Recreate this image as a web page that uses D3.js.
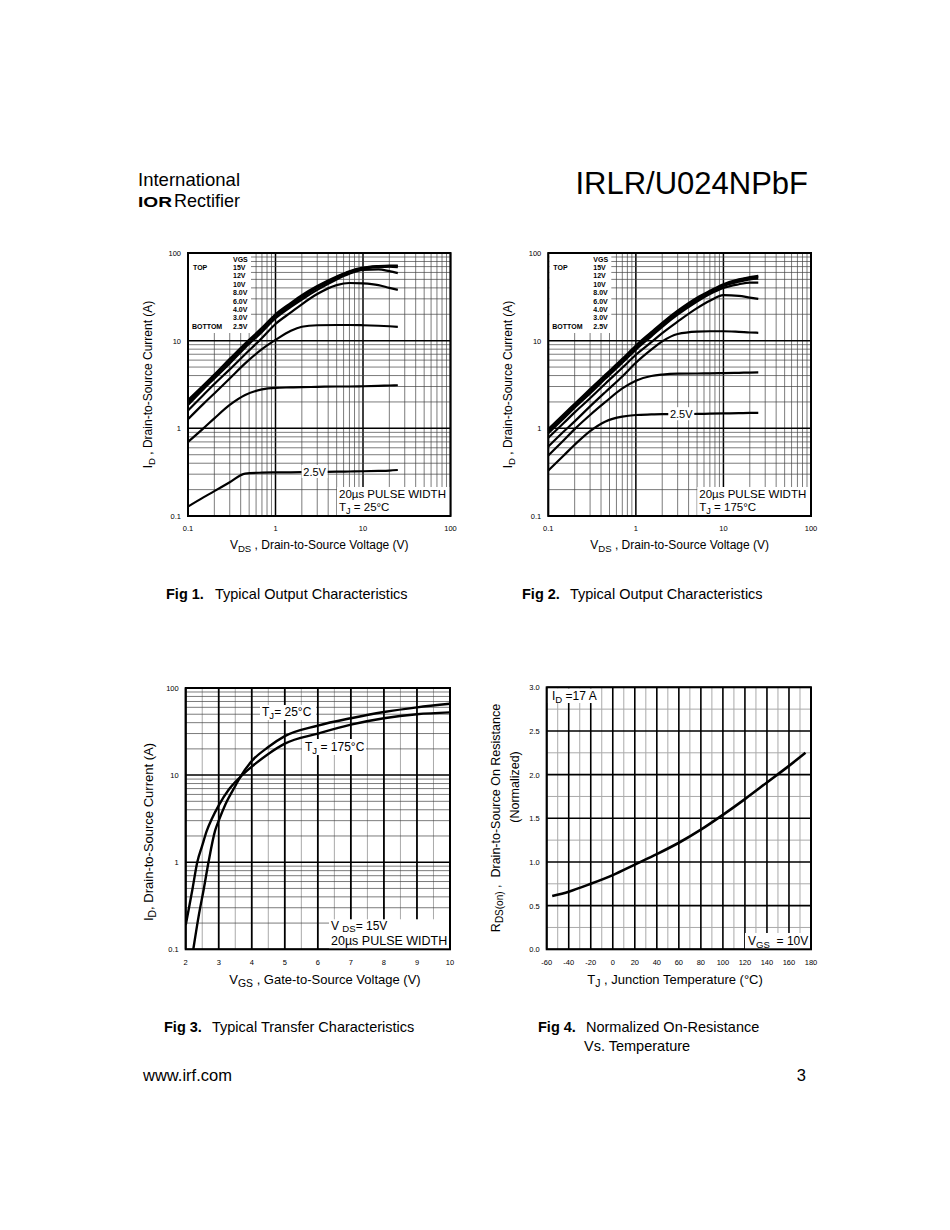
<!DOCTYPE html>
<html lang="en">
<head>
<meta charset="utf-8">
<title>IRLR/U024NPbF - page 3</title>
<script src="https://cdnjs.cloudflare.com/ajax/libs/d3/7.8.5/d3.min.js"></script>
<style>
  body { margin: 0; background: #fff; }
  svg text { font-family: "Liberation Sans", Arial, Helvetica, sans-serif; fill: #000; white-space: pre; }
</style>
</head>
<body>
<script>
// ---- data ----

// Fig 1 / Fig 2 : output characteristics, VDS sample points (V)
var vds = [0.1, 0.15, 0.2, 0.3, 0.45, 0.7, 1, 1.5, 2, 3, 5, 7, 10, 15, 20, 25];
var vgsSteps = ["15V", "12V", "10V", "8.0V", "6.0V", "4.0V", "3.0V", "2.5V"];

// Fig 1, TJ = 25C, ID (A)
var f1_15V = [2.1, 3.1, 4.1, 6.2, 9.3, 14, 20, 27, 33, 42, 54, 62, 68, 71, 72, 72];
var f1_12V = [2.0, 3.0, 4.0, 6.0, 9.0, 13.6, 19.4, 26.2, 32, 41, 53, 61, 67, 70, 71, 71];
var f1_10V = [1.95, 2.9, 3.9, 5.8, 8.7, 13.2, 18.8, 25.4, 31, 40, 52, 60, 66, 69, 70, 69];
var f1_8V = [1.85, 2.8, 3.7, 5.5, 8.3, 12.6, 18, 24.3, 29.5, 38, 50, 58, 64, 65, 62, 59];
var f1_6V = [1.6, 2.4, 3.2, 4.7, 7.0, 10.7, 15.5, 21, 26, 34, 43, 45.5, 45, 43, 40, 38];
var f1_4V = [1.27, 1.9, 2.5, 3.7, 5.5, 8.0, 10.2, 13, 14.4, 15, 15.1, 15.1, 15, 14.8, 14.6, 14.4];
var f1_3V = [0.7, 1.0, 1.3, 1.85, 2.4, 2.78, 2.9, 2.93, 2.95, 2.97, 3.0, 3.0, 3.02, 3.05, 3.08, 3.1];
var f1_25V = [0.128, 0.163, 0.192, 0.243, 0.305, 0.312, 0.314, 0.315, 0.316, 0.318, 0.32, 0.322, 0.324, 0.327, 0.33, 0.335];

// Fig 2, TJ = 175C, ID (A)
var f2_15V = [0.98, 1.45, 1.9, 2.8, 4.1, 6.2, 8.8, 12.5, 16, 22, 31, 37, 44, 50, 53, 55];
var f2_12V = [0.95, 1.4, 1.85, 2.7, 4.0, 6.0, 8.5, 12.1, 15.5, 21.4, 30, 36, 43, 49, 52, 53.5];
var f2_10V = [0.92, 1.36, 1.8, 2.6, 3.85, 5.8, 8.2, 11.7, 15, 20.7, 29, 35, 42, 47, 50, 51];
var f2_8V = [0.88, 1.3, 1.72, 2.5, 3.7, 5.6, 7.9, 11.2, 14.4, 19.8, 28, 34, 40, 44, 46, 46];
var f2_6V = [0.78, 1.15, 1.52, 2.2, 3.25, 4.9, 6.9, 9.6, 12.2, 16.5, 23.5, 28.5, 33, 32.5, 31, 30];
var f2_4V = [0.62, 0.92, 1.2, 1.78, 2.6, 3.9, 5.6, 7.9, 9.8, 11.9, 12.7, 12.8, 12.8, 12.6, 12.4, 12.3];
var f2_3V = [0.49, 0.73, 0.98, 1.42, 2.0, 2.85, 3.5, 3.95, 4.1, 4.2, 4.22, 4.24, 4.26, 4.3, 4.33, 4.35];
var f2_25V = [0.33, 0.49, 0.65, 0.93, 1.2, 1.36, 1.42, 1.44, 1.45, 1.45, 1.46, 1.47, 1.48, 1.49, 1.5, 1.5];

// Fig 3 : transfer characteristics
var vgs25 = [2.23, 2.4, 2.55, 2.69, 2.89, 3.0, 3.2, 3.5, 3.65, 4, 4.5, 5, 6, 7, 8, 9, 10];
var id25 = [0.1, 0.25, 0.5, 1.0, 2.3, 3.0, 4.6, 7.5, 9.5, 14.5, 21, 28, 37, 45, 53, 60, 66];
var vgs175 = [2.0, 2.1, 2.2, 2.35, 2.5, 2.64, 2.8, 3.0, 3.3, 3.65, 4, 4.5, 5, 6, 7, 8, 9, 10];
var id175 = [0.19, 0.3, 0.48, 1.0, 1.55, 2.3, 3.2, 4.5, 6.8, 9.5, 12.5, 17.5, 23, 30, 38, 45, 50, 52.5];

// Fig 4 : normalized on-resistance vs temperature
var tj = [-55, -40, -20, 0, 20, 40, 60, 80, 100, 120, 140, 160, 175];
var rdsNorm = [0.61, 0.66, 0.75, 0.85, 0.97, 1.09, 1.22, 1.37, 1.54, 1.72, 1.91, 2.1, 2.25];

// tick labels
var logTickVals = [0.1, 1, 10, 100];
var logTickText = ["0.1", "1", "10", "100"];
var vgsTicks = [2, 3, 4, 5, 6, 7, 8, 9, 10];
var tjTicks = [-60, -40, -20, 0, 20, 40, 60, 80, 100, 120, 140, 160, 180];
var rdsTicks = [0, 0.5, 1.0, 1.5, 2.0, 2.5, 3.0];

// ---- drawing ----
var svg = d3.select("body").append("svg")
    .attr("width", 950)
    .attr("height", 1230);

function isDecade(v) {
    var l = Math.log10(v);
    return Math.abs(l - Math.round(l)) < 1e-6;
}

// 1..9 in every decade between lo and hi
function logLines(lo, hi) {
    var out = [];
    for (var e = Math.round(Math.log10(lo)); e < Math.round(Math.log10(hi)); e++) {
        for (var k = 1; k < 10; k++) out.push(k * Math.pow(10, e));
    }
    out.push(hi);
    return out;
}

// text with "_" prefixed parts as subscripts
function rich(x, y, parts, size, anchor, rotate, subShift) {
    var t = svg.append("text")
        .attr("font-size", size)
        .attr("text-anchor", anchor || "start")
        .attr("xml:space", "preserve");
    if (rotate) t.attr("transform", "translate(" + x + "," + y + ") rotate(-90)");
    else t.attr("x", x).attr("y", y);
    var off = 0;
    parts.forEach(function(p) {
        var sub = p.charAt(0) === "_";
        var s = t.append("tspan").text(sub ? p.slice(1) : p);
        if (sub) {
            var d = size * (subShift || 0.25);
            s.attr("font-size", size * 0.8).attr("dy", d - off);
            off = d;
        } else if (off) {
            s.attr("dy", -off);
            off = 0;
        }
    });
    return t;
}

function whiteBox(x0, y0, x1, y1) {
    svg.append("rect").attr("x", x0).attr("y", y0)
        .attr("width", x1 - x0).attr("height", y1 - y0).attr("fill", "#fff");
}

function frame(x, y) {
    svg.append("rect")
        .attr("x", x.range()[0]).attr("y", y.range()[1])
        .attr("width", x.range()[1] - x.range()[0])
        .attr("height", y.range()[0] - y.range()[1])
        .attr("fill", "none").attr("stroke", "#000").attr("stroke-width", 2);
}

function hLogGrid(g, x, y) {
    g.selectAll("line.h").data(logLines(0.1, 100)).join("line")
        .attr("class", "h")
        .attr("x1", x.range()[0]).attr("x2", x.range()[1])
        .attr("y1", d => y(d)).attr("y2", d => y(d))
        .attr("stroke", d => isDecade(d) ? "#000" : "#444")
        .attr("stroke-width", d => isDecade(d) ? 1.5 : 0.7);
}

function drawCurve(x, y, xs, ys, w) {
    var line = d3.line().x(d => x(d[0])).y(d => y(d[1])).curve(d3.curveMonotoneX);
    svg.append("path")
        .datum(d3.zip(xs, ys))
        .attr("d", line)
        .attr("fill", "none")
        .attr("stroke", "#000")
        .attr("stroke-width", w || 2.2)
        .attr("stroke-linejoin", "round");
}

function logYTicks(x, y, xr) {
    logTickVals.forEach(function(v, i) {
        svg.append("text").attr("x", xr).attr("y", y(v) + 3)
            .attr("font-size", 7.5).attr("text-anchor", "end").text(logTickText[i]);
    });
}

// Fig 1 and Fig 2 share the same layout
function outputChart(x0, x1, y0, y1, curves, tjText, labelV) {
    var x = d3.scaleLog().domain([0.1, 100]).range([x0, x1]);
    var y = d3.scaleLog().domain([0.1, 100]).range([y1, y0]);
    var g = svg.append("g");
    g.selectAll("line.v").data(logLines(0.1, 100)).join("line")
        .attr("class", "v")
        .attr("x1", d => x(d)).attr("x2", d => x(d))
        .attr("y1", y0).attr("y2", y1)
        .attr("stroke", d => isDecade(d) ? "#000" : "#444")
        .attr("stroke-width", d => isDecade(d) ? 1.5 : 0.7);
    hLogGrid(g, x, y);

    // legend and note boxes
    whiteBox(x0 + 1, y0 + 1, x0 + 63, y0 + 80);
    whiteBox(x0 + 149, y1 - 29, x1, y1);
    frame(x, y);

    curves.forEach(function(c) { drawCurve(x, y, vds, c); });

    // 2.5V label on the bottom curve
    var lid = curves[7][9];
    whiteBox(x(labelV) - 13, y(lid) - 7, x(labelV) + 13, y(lid) + 6);
    svg.append("text").attr("x", x(labelV)).attr("y", y(lid) + 4)
        .attr("font-size", 11).attr("text-anchor", "middle").text("2.5V");

    // legend
    svg.append("text").attr("x", x0 + 45).attr("y", y0 + 8.5)
        .attr("font-size", 7).attr("font-weight", "bold").text("VGS");
    vgsSteps.forEach(function(s, i) {
        svg.append("text").attr("x", x0 + 45).attr("y", y0 + 16.9 + i * 8.4)
            .attr("font-size", 7).attr("font-weight", "bold").text(s);
    });
    svg.append("text").attr("x", x0 + 5).attr("y", y0 + 16.9)
        .attr("font-size", 7).attr("font-weight", "bold").text("TOP");
    svg.append("text").attr("x", x0 + 4).attr("y", y0 + 16.9 + 7 * 8.4)
        .attr("font-size", 7).attr("font-weight", "bold").text("BOTTOM");

    svg.append("text").attr("x", x0 + 151).attr("y", y1 - 18)
        .attr("font-size", 11.5).text("20\u00b5s PULSE WIDTH");
    rich(x0 + 151, y1 - 5, ["T", "_J", " = " + tjText], 11.5);

    // ticks
    logTickVals.forEach(function(v, i) {
        svg.append("text").attr("x", x(v)).attr("y", y1 + 15)
            .attr("font-size", 7.5).attr("text-anchor", "middle").text(logTickText[i]);
    });
    logYTicks(x, y, x0 - 7);

    rich((x0 + x1) / 2, y1 + 33, ["V", "_DS", " , Drain-to-Source Voltage (V)"], 12, "middle");
    rich(x0 - 36, (y0 + y1) / 2, ["I", "_D", " , Drain-to-Source Current (A)"], 12, "middle", true);
}

// ---- header ----
var thinFont = "'DejaVu Sans ExtraLight', 'Roboto Light', 'Lato Light', Roboto, 'DejaVu Sans', sans-serif";
svg.append("text").attr("x", 138).attr("y", 186)
    .attr("font-family", thinFont)
    .attr("font-weight", 200).attr("font-size", 19)
    .attr("textLength", 102).attr("lengthAdjust", "spacingAndGlyphs")
    .text("International");
svg.append("text").attr("x", 138).attr("y", 207)
    .attr("font-family", "'DejaVu Serif', 'Liberation Serif', serif")
    .attr("font-weight", "bold").attr("font-size", 14)
    .attr("textLength", 34).attr("lengthAdjust", "spacingAndGlyphs")
    .text("IOR");
svg.append("text").attr("x", 174).attr("y", 207)
    .attr("font-family", thinFont)
    .attr("font-weight", 200).attr("font-size", 19)
    .attr("textLength", 66).attr("lengthAdjust", "spacingAndGlyphs")
    .text("Rectifier");
svg.append("text").attr("x", 808).attr("y", 194)
    .attr("font-size", 31).attr("text-anchor", "end")
    .text("IRLR/U024NPbF");

// ---- Fig 1 & Fig 2 ----
outputChart(188, 450.5, 253, 516,
    [f1_15V, f1_12V, f1_10V, f1_8V, f1_6V, f1_4V, f1_3V, f1_25V], "25\u00b0C", 2.8);
outputChart(548.3, 811, 253, 516,
    [f2_15V, f2_12V, f2_10V, f2_8V, f2_6V, f2_4V, f2_3V, f2_25V], "175\u00b0C", 3.3);

// ---- Fig 3 ----
(function() {
    var x0 = 185.7, x1 = 450, y0 = 688, y1 = 949.3;
    var x = d3.scaleLinear().domain([2, 10]).range([x0, x1]);
    var y = d3.scaleLog().domain([0.1, 100]).range([y1, y0]);
    var g = svg.append("g");
    var halves = d3.range(2.5, 10, 1);
    g.selectAll("line.vh").data(halves).join("line")
        .attr("x1", d => x(d)).attr("x2", d => x(d)).attr("y1", y0).attr("y2", y1)
        .attr("stroke", "#aaa").attr("stroke-width", 1);
    hLogGrid(g, x, y);
    g.selectAll("line.vi").data(vgsTicks).join("line")
        .attr("x1", d => x(d)).attr("x2", d => x(d)).attr("y1", y0).attr("y2", y1)
        .attr("stroke", "#000").attr("stroke-width", 1.8);

    whiteBox(329, y1 - 30, x1, y1);
    frame(x, y);

    // clip the curves to the plot box
    svg.append("clipPath").attr("id", "clip3").append("rect")
        .attr("x", x0).attr("y", y0).attr("width", x1 - x0).attr("height", y1 - y0);
    var line = d3.line().x(d => x(d[0])).y(d => y(d[1])).curve(d3.curveMonotoneX);
    [[vgs25, id25], [vgs175, id175]].forEach(function(c) {
        svg.append("path").datum(d3.zip(c[0], c[1]))
            .attr("d", line).attr("clip-path", "url(#clip3)")
            .attr("fill", "none").attr("stroke", "#000").attr("stroke-width", 2.4);
    });

    whiteBox(260, 705, 316, 720);
    rich(262, 716, ["T", "_J", "= 25\u00b0C"], 12);
    whiteBox(302, 739, 366, 755);
    rich(305, 751, ["T", "_J", " = 175\u00b0C"], 12);

    rich(331, 930, ["V ", "_DS", "= 15V"], 12, "start", false, 0.15);
    svg.append("text").attr("x", 331).attr("y", 945)
        .attr("font-size", 12.5).text("20\u00b5s PULSE WIDTH");

    vgsTicks.forEach(function(v) {
        svg.append("text").attr("x", x(v)).attr("y", y1 + 16)
            .attr("font-size", 7.5).attr("text-anchor", "middle").text(v);
    });
    logYTicks(x, y, x0 - 7);
    rich(325, 984, ["V", "_GS", " , Gate-to-Source Voltage (V)"], 13, "middle");
    rich(153, 832, ["I", "_D", ", Drain-to-Source Current (A)"], 13, "middle", true);
})();

// ---- Fig 4 ----
(function() {
    var x0 = 546.7, x1 = 811, y0 = 687.3, y1 = 949.3;
    var x = d3.scaleLinear().domain([-60, 180]).range([x0, x1]);
    var y = d3.scaleLinear().domain([0, 3]).range([y1, y0]);
    var g = svg.append("g");
    g.selectAll("line.vg").data(d3.range(-50, 180, 20)).join("line")
        .attr("x1", d => x(d)).attr("x2", d => x(d)).attr("y1", y0).attr("y2", y1)
        .attr("stroke", "#aaa").attr("stroke-width", 1);
    g.selectAll("line.hg").data(d3.range(0.25, 3, 0.5)).join("line")
        .attr("x1", x0).attr("x2", x1).attr("y1", d => y(d)).attr("y2", d => y(d))
        .attr("stroke", "#aaa").attr("stroke-width", 1);
    g.selectAll("line.vb").data(tjTicks).join("line")
        .attr("x1", d => x(d)).attr("x2", d => x(d)).attr("y1", y0).attr("y2", y1)
        .attr("stroke", "#000").attr("stroke-width", 1.6);
    g.selectAll("line.hb").data(rdsTicks).join("line")
        .attr("x1", x0).attr("x2", x1).attr("y1", d => y(d)).attr("y2", d => y(d))
        .attr("stroke", "#000").attr("stroke-width", 1.6);

    whiteBox(x0 + 1, y0 + 1, 601, 703);
    whiteBox(745, 933, x1, y1);
    frame(x, y);

    drawCurve(x, y, tj, rdsNorm, 2.6);

    rich(552, 700, ["I", "_D", " =17 A"], 12);
    rich(748, 945, ["V", "_GS", "  = 10V"], 12);

    tjTicks.forEach(function(v) {
        svg.append("text").attr("x", x(v)).attr("y", y1 + 16)
            .attr("font-size", 7.5).attr("text-anchor", "middle").text(v);
    });
    rdsTicks.forEach(function(v) {
        svg.append("text").attr("x", x0 - 7).attr("y", y(v) + 3)
            .attr("font-size", 7.5).attr("text-anchor", "end").text(d3.format(".1f")(v));
    });
    rich(675, 984, ["T", "_J", " , Junction Temperature (\u00b0C)"], 13, "middle");
    rich(500, 818, ["R", "_DS(on)", " ,  Drain-to-Source On Resistance"], 12.5, "middle", true);
    rich(519, 787, ["(Normalized)"], 12.5, "middle", true);
})();

// ---- captions and footer ----
function caption(x, y, fig, x2, txt) {
    svg.append("text").attr("x", x).attr("y", y)
        .attr("font-size", 14.5).attr("font-weight", "bold").text(fig);
    svg.append("text").attr("x", x2).attr("y", y)
        .attr("font-size", 14.5).text(txt);
}
caption(166, 599, "Fig 1.", 215, "Typical Output Characteristics");
caption(522, 599, "Fig 2.", 570, "Typical Output Characteristics");
caption(164, 1032, "Fig 3.", 212, "Typical Transfer Characteristics");
caption(538, 1032, "Fig 4.", 586, "Normalized On-Resistance");
svg.append("text").attr("x", 584).attr("y", 1051).attr("font-size", 14.5).text("Vs. Temperature");

svg.append("text").attr("x", 143).attr("y", 1081).attr("font-size", 16.5).text("www.irf.com");
svg.append("text").attr("x", 806).attr("y", 1081).attr("font-size", 16.5)
    .attr("text-anchor", "end").text("3");
</script>
</body>
</html>
